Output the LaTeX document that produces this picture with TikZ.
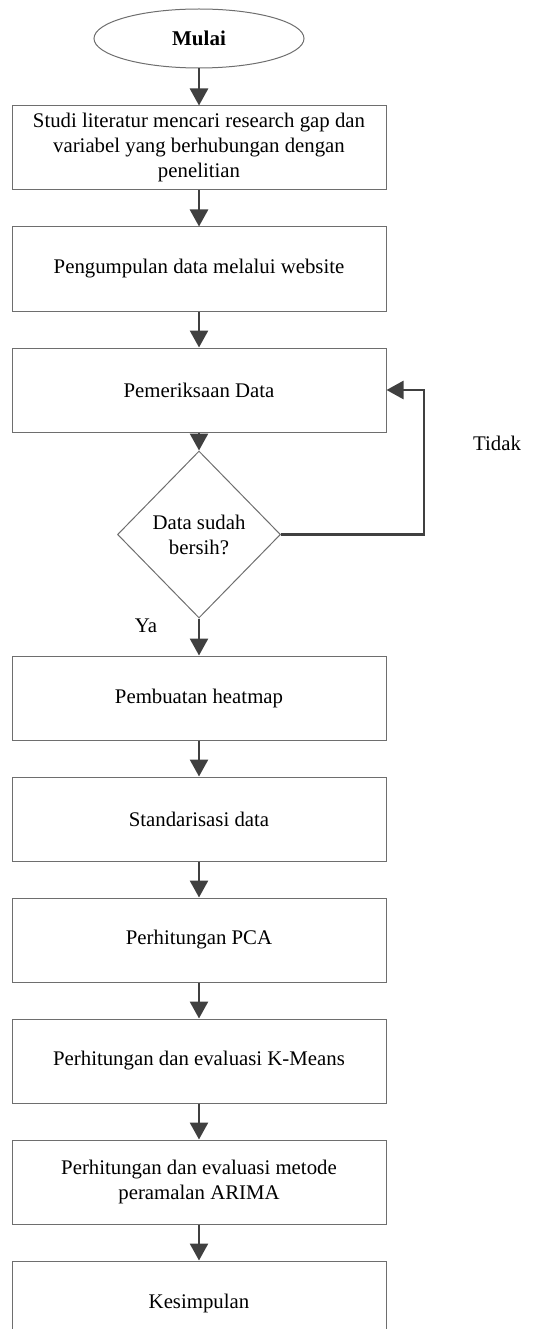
\documentclass[tikz,border=0pt]{standalone}
\usepackage{fontspec}
\setmainfont{Liberation Serif}
\usetikzlibrary{positioning,shapes.geometric,arrows.meta}
\definecolor{garisbox}{HTML}{6E6E6E}
\definecolor{garispanah}{HTML}{404040}

\begin{document}
\begin{tikzpicture}[x=1pt,y=1pt,
        font=\fontsize{20.8}{25}\selectfont,
        proses/.style={draw=garisbox,line width=1pt,minimum width=374pt,minimum height=84pt,align=center,inner sep=2pt},
        terminal/.style={ellipse,draw=garisbox,line width=1pt,minimum width=210pt,minimum height=59pt,font=\fontsize{21}{25}\selectfont\bfseries},
        keputusan/.style={diamond,draw=garisbox,line width=1pt,minimum width=163pt,minimum height=167pt,align=center,inner sep=0pt},
        panah/.style={draw=garispanah,line width=2.6pt,-{Triangle[width=18pt,length=17pt]}},
        node distance=36pt]
            \useasboundingbox (0,0) rectangle (536,-1329);

            % Start
            \node[terminal] (mulai) at (199,-38.5) {Mulai};

            % Steps
            \node[proses,below=37pt of mulai] (studi) {Studi literatur mencari research gap dan\\variabel yang berhubungan dengan\\penelitian};
            \node[proses,below=of studi] (kumpul) {Pengumpulan data melalui website};
            \node[proses,below=of kumpul] (periksa) {Pemeriksaan Data};
            \node[keputusan,below=18pt of periksa] (bersih) {Data sudah\\bersih?};
            \node[proses,below=37pt of bersih] (heatmap) {Pembuatan heatmap};
            \node[proses,below=of heatmap] (standar) {Standarisasi data};
            \node[proses,below=of standar] (pca) {Perhitungan PCA};
            \node[proses,below=of pca] (kmeans) {Perhitungan dan evaluasi K-Means};
            \node[proses,below=of kmeans] (arima) {Perhitungan dan evaluasi metode\\peramalan ARIMA};
            \node[proses,below=of arima] (simpul) {Kesimpulan};

            % Labels of the decision
            \node (tidak) at (497,-443) {Tidak};
            \node (ya) at ([xshift=-53pt,yshift=-7pt]bersih.south) {Ya};

            % Arrows
            \draw[panah] (mulai.south) -- (studi.north);
            \draw[panah] (studi.south) -- (kumpul.north);
            \draw[panah] (kumpul.south) -- (periksa.north);
            \draw[panah] (periksa.south) -- (bersih.north);
            \draw[panah] (bersih.south) -- (heatmap.north);
            \draw[panah] (heatmap.south) -- (standar.north);
            \draw[panah] (standar.south) -- (pca.north);
            \draw[panah] (pca.south) -- (kmeans.north);
            \draw[panah] (kmeans.south) -- (arima.north);
            \draw[panah] (arima.south) -- (simpul.north);

            % Back to checking
            \coordinate (belok) at ([xshift=143pt]bersih.east);
            \draw[panah] (bersih.east) -- (belok) |- (periksa.east);

        \end{tikzpicture}
\end{document}
